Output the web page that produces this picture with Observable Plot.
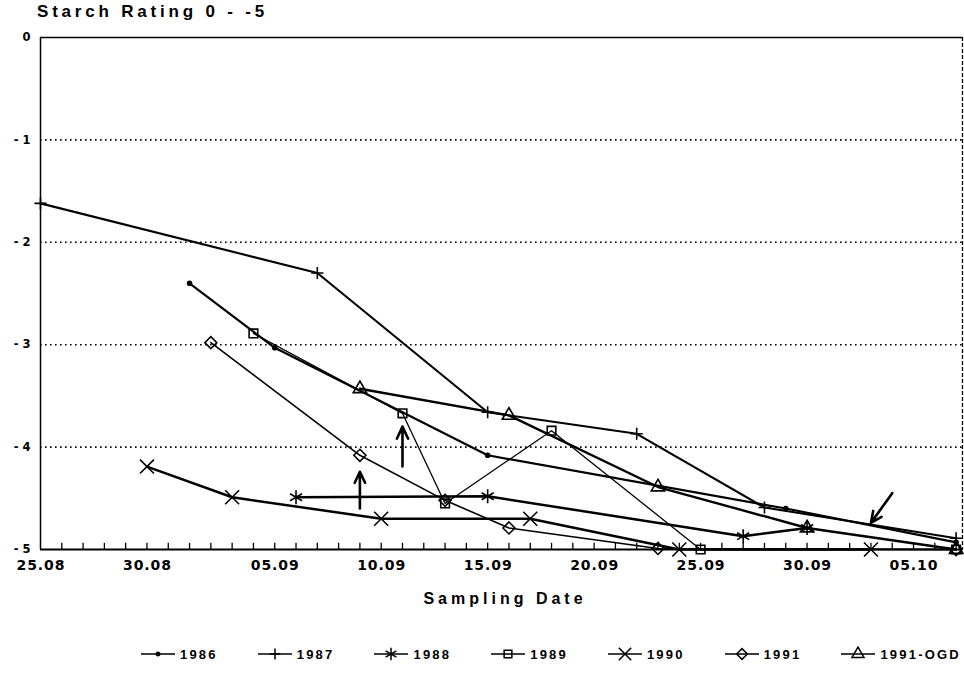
<!DOCTYPE html>
<html>
<head>
<meta charset="utf-8">
<script src="https://cdn.jsdelivr.net/npm/d3@7"></script>
<script src="https://cdn.jsdelivr.net/npm/@observablehq/plot@0.6"></script>
<style>
  body { margin: 0; background: #fff; }
  #wrap { position: relative; width: 964px; height: 675px; background: #fff; color: #000;
          font-family: "Liberation Sans", Arial, sans-serif; overflow: hidden; }
  #chart { position: absolute; left: 0; top: 0; }
  #title { position: absolute; left: 37px; top: 2px; font-weight: bold; font-size: 17px; letter-spacing: 3.8px; white-space: pre; }
  #xlabel { position: absolute; left: 0; width: 1010px; top: 590px; text-align: center; font-weight: bold; font-size: 16px; letter-spacing: 4px; }
  #legend { position: absolute; left: 141px; top: 646px; display: flex; align-items: center; font-weight: bold; font-size: 13px; letter-spacing: 2.2px; }
  .item { display: flex; align-items: center; margin-right: 40px; }
  .item:last-child { margin-right: 0; }
  .item svg { margin-right: 5px; }
</style>
</head>
<body>
<div id="wrap">
  <div id="chart"></div>
  <div id="title">Starch Rating 0 - -5</div>
  <div id="xlabel">Sampling Date</div>
  <div id="legend"></div>
</div>
<script>
// ---------- data ----------
const seriesNames = ["1986", "1987", "1988", "1989", "1990", "1991", "1991-OGD"];

const dates1986  = ["01.09", "05.09", "15.09", "29.09", "07.10"];
const values1986 = [-2.40, -3.03, -4.08, -4.60, -4.93];

const dates1987  = ["25.08", "07.09", "15.09", "22.09", "28.09", "07.10"];
const values1987 = [-1.62, -2.30, -3.66, -3.87, -4.59, -4.89];

const dates1988  = ["06.09", "15.09", "27.09", "30.09"];
const values1988 = [-4.49, -4.48, -4.87, -4.79];

const dates1989  = ["04.09", "11.09", "13.09", "18.09", "25.09", "07.10"];
const values1989 = [-2.89, -3.67, -4.55, -3.84, -5.00, -5.00];

const dates1990  = ["30.08", "03.09", "10.09", "17.09", "24.09", "03.10"];
const values1990 = [-4.19, -4.49, -4.70, -4.70, -5.00, -5.00];

const dates1991  = ["02.09", "09.09", "13.09", "16.09", "23.09", "07.10"];
const values1991 = [-2.98, -4.08, -4.52, -4.79, -4.99, -5.00];

const dates1991OGD  = ["09.09", "16.09", "23.09", "30.09", "07.10"];
const values1991OGD = [-3.43, -3.69, -4.39, -4.79, -5.00];

const xTickDates  = ["25.08", "30.08", "05.09", "10.09", "15.09", "20.09", "25.09", "30.09", "05.10"];
const xTickLabels = ["25.08", "30.08", "05.09", "10.09", "15.09", "20.09", "25.09", "30.09", "05.10"];
const yTicks = [0, -1, -2, -3, -4, -5];
const yTickLabels = ["0", "- 1", "- 2", "- 3", "- 4", "- 5"];
const gridValues = [-1, -2, -3, -4];
const xStart = "25.08";
const daysShown = 43.3;

// hand-drawn arrows on the original
const noteFrom = [["09.09", -4.60], ["11.09", -4.19], ["04.10", -4.45]];
const noteTo   = [["09.09", -4.24], ["11.09", -3.80], ["03.10", -4.74]];

// ---------- styles ----------
const symbolOf = {"1986": "circle", "1987": "plus", "1988": "asterisk", "1989": "square2",
                  "1990": "times", "1991": "diamond2", "1991-OGD": "triangle2"};
const d3SymbolOf = {"circle": d3.symbolCircle, "plus": d3.symbolPlus, "asterisk": d3.symbolAsterisk,
                  "square2": d3.symbolSquare2, "times": d3.symbolTimes, "diamond2": d3.symbolDiamond2,
                  "triangle2": d3.symbolTriangle2};
const rOf = {"1986": 2, "1987": 4, "1988": 6.6, "1989": 5.5, "1990": 6.4, "1991": 5.4, "1991-OGD": 6.4};
const widthOf = {"1986": 2.2, "1987": 2.1, "1988": 2.5, "1989": 1.3, "1990": 2.5, "1991": 1.6, "1991-OGD": 2.4};

// ---------- build table ----------
const parse = s => { const [d, m] = s.split(".").map(Number); return new Date(Date.UTC(2000, m - 1, d)); };
const series = [
  ["1986", dates1986, values1986], ["1987", dates1987, values1987], ["1988", dates1988, values1988],
  ["1989", dates1989, values1989], ["1990", dates1990, values1990], ["1991", dates1991, values1991],
  ["1991-OGD", dates1991OGD, values1991OGD]
];
const rows = series.flatMap(([name, ds, vs]) => ds.map((d, i) => ({series: name, date: parse(d), value: vs[i]})));

const x0 = parse(xStart);
const x1 = new Date(+x0 + daysShown * 864e5);
const dailyTicks = d3.utcDay.range(d3.utcDay.offset(x0, 1), x1);
const xTicks = xTickDates.map((d, i) => ({date: parse(d), label: xTickLabels[i]}));
const yTickRows = yTicks.map((v, i) => ({value: v, label: yTickLabels[i]}));
const notes = noteFrom.map((f, i) => ({x1: parse(f[0]), y1: f[1], x2: parse(noteTo[i][0]), y2: noteTo[i][1]}));

const tickFont = "'DejaVu Sans', 'Liberation Sans', sans-serif";
const marks = [
  Plot.ruleY(gridValues, {strokeDasharray: "1.6,3.4", strokeWidth: 1.6}),
  Plot.ruleY([0], {strokeWidth: 1.5}),
  Plot.ruleY([-5], {strokeWidth: 2.2}),
  Plot.ruleX([x0], {strokeWidth: 1.5}),
  Plot.ruleX([x1], {strokeWidth: 1.3, strokeDasharray: "4,2"}),
  Plot.ruleX(dailyTicks, {y1: -5, y2: -4.94, strokeWidth: 1.3}),
  Plot.text(xTicks, {x: "date", y: () => -5, text: "label", dy: 16, fontSize: 14, fontWeight: "bold", fontFamily: tickFont}),
  Plot.text(yTickRows, {x: () => x0, y: "value", text: "label", textAnchor: "end", dx: -10, fontSize: 11.5, fontWeight: "bold", fontFamily: tickFont}),
];
for (const name of seriesNames) {
  marks.push(Plot.line(rows, {filter: d => d.series === name, x: "date", y: "value",
                              stroke: "black", strokeWidth: widthOf[name], strokeLinejoin: "round"}));
}
for (const name of seriesNames) {
  const filled = name === "1986";
  marks.push(Plot.dot(rows, {filter: d => d.series === name, x: "date", y: "value",
                             symbol: () => symbolOf[name], r: rOf[name],
                             stroke: "black", strokeWidth: 1.6,
                             fill: filled ? "black" : "none"}));
}
marks.push(Plot.arrow(notes, {x1: "x1", y1: "y1", x2: "x2", y2: "y2", stroke: "black",
                              strokeWidth: 2.6, headLength: 11, headAngle: 50}));

const chart = Plot.plot({
  width: 964,
  height: 620,
  marginLeft: 40,
  marginRight: 2,
  marginTop: 37,
  marginBottom: 71,
  style: {fontFamily: "'Liberation Sans', Arial, sans-serif", background: "transparent"},
  x: {type: "utc", domain: [x0, x1], axis: null},
  y: {domain: [-5, 0], axis: null},
  symbol: {type: "identity"},
  marks
});
document.getElementById("chart").append(chart);

// widen the x tick labels like the wide lettering of the original
const xLabelSet = new Set(xTickLabels);
d3.select(chart).selectAll("text")
  .filter(function () { return xLabelSet.has(this.textContent); })
  .attr("textLength", 48).attr("lengthAdjust", "spacing");

// ---------- legend ----------
const legend = d3.select("#legend");
for (const name of seriesNames) {
  const item = legend.append("div").attr("class", "item");
  const svg = item.append("svg").attr("width", 34).attr("height", 16);
  svg.append("line").attr("x1", 0).attr("x2", 34).attr("y1", 8).attr("y2", 8)
     .attr("stroke", "black").attr("stroke-width", 1.6);
  const r = rOf[name];
  svg.append("path").attr("transform", "translate(17,8)")
     .attr("d", d3.symbol(d3SymbolOf[symbolOf[name]], Math.PI * r * r * 0.8)())
     .attr("fill", name === "1986" ? "black" : "none").attr("stroke", "black").attr("stroke-width", 1.5);
  item.append("span").text(name);
}
</script>
</body>
</html>
